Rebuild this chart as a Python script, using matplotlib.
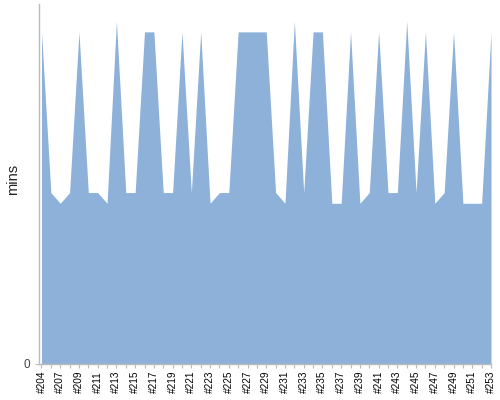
import matplotlib
matplotlib.use("Agg")
import matplotlib.pyplot as plt
import numpy as np

plt.rcParams['font.family'] = ['Liberation Sans', 'DejaVu Sans']

builds = ["#204", "#206"] + ["#%d" % n for n in range(207, 254)]
mins = [31, 16, 15, 16, 31, 16, 16, 15, 32, 16,
        16, 31, 31, 16, 16, 31, 16, 31, 15, 16,
        16, 31, 31, 31, 31, 16, 15, 32, 16, 31,
        31, 15, 15, 31, 15, 16, 31, 16, 16, 32,
        16, 31, 15, 16, 31, 15, 15, 15, 31]

fig = plt.figure(figsize=(5, 4), dpi=100)
ax = fig.add_axes([0.077, 0.09, 0.905, 0.90])
x = np.arange(len(builds))
ax.fill_between(x, mins, 0, color="#8EB1DA", linewidth=0)
ax.set_xlim(-0.32, len(builds) - 1)
ax.set_ylim(0, 33.6)

ax.set_xticks(x)
ax.set_xticklabels([b if i % 2 == 0 else "" for i, b in enumerate(builds)],
                   rotation=90, fontsize=7.2, color="#000000")
ax.set_yticks([0])
ax.set_yticklabels(["0"], fontsize=8.5, color="#444444")
ax.tick_params(axis='x', length=3, color="#BBBBBB", width=0.8, pad=2)
ax.tick_params(axis='y', length=3, color="#BBBBBB", width=0.8, pad=3)
for s in ["top", "right"]:
    ax.spines[s].set_visible(False)
for s in ["left", "bottom"]:
    ax.spines[s].set_color("#BBBBBB")
    ax.spines[s].set_linewidth(1)
ax.set_ylabel("mins", fontsize=10.5, color="#222222")
ax.yaxis.set_label_coords(-0.040, 0.514)

fig.savefig("out.png", dpi=100)
